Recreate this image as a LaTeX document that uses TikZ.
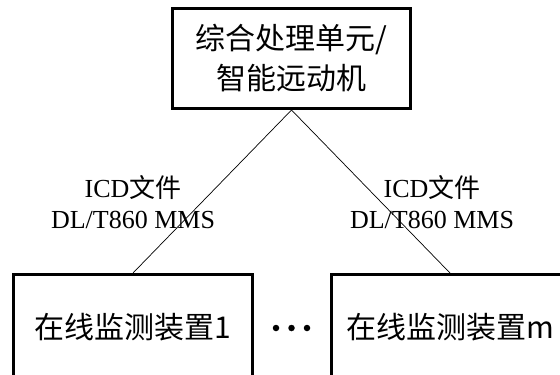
\documentclass[tikz,border=0pt]{standalone}
\usepackage{fontspec}
\setmainfont{Liberation Serif}
\newfontfamily\cjk{Noto Sans CJK SC}
\begin{document}
\begin{tikzpicture}[x=1bp,y=1bp,
  box/.style={draw, line width=3bp, minimum width=238bp, minimum height=100bp,
    inner sep=0pt, font=\cjk\fontsize{30bp}{40bp}\selectfont, align=center},
  link/.style={line width=0.7bp},
  lbl/.style={font=\fontsize{26bp}{31bp}\selectfont, align=center},
  dot/.style={circle, fill, inner sep=0pt, minimum size=6.5bp}]
\useasboundingbox (0,0) rectangle (560,374);
\clip (0,0) rectangle (560,374);
\node[lbl] (l1) at (133,171.5) {ICD{\cjk 文件}\\DL/T860 MMS};
\node[lbl] (l2) at (432,171.5) {ICD{\cjk 文件}\\DL/T860 MMS};
\node[box] (top) at (291.5,315.5) {综合处理单元/\\智能远动机};
\node[box, minimum height=106bp] (d1) at (133,46.5) {在线监测装置1};
\node[box, minimum height=106bp] (dm) at (450,46.5) {在线监测装置m};
\draw[link] (top.south) -- (d1.north);
\draw[link] (top.south) -- (dm.north);
\node[dot] (p1) at (276,46) {};
\node[dot] (p2) at (291.5,46) {};
\node[dot] (p3) at (307,46) {};
\end{tikzpicture}
\end{document}
